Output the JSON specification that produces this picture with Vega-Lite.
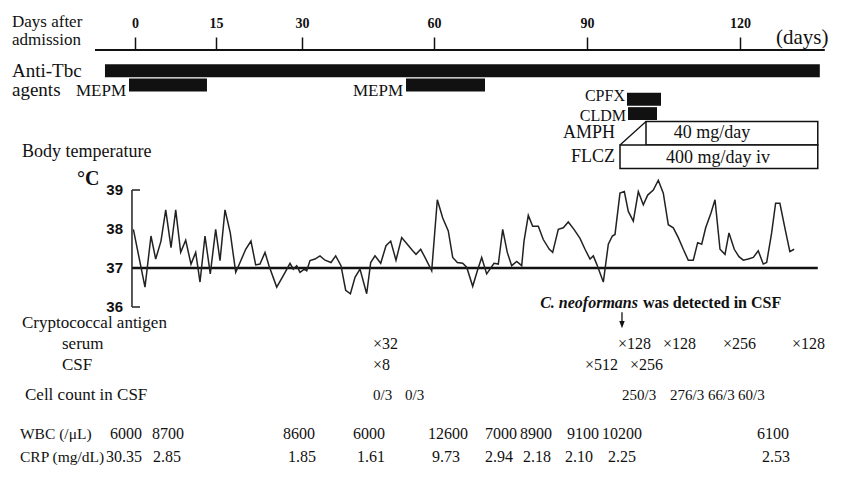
{
  "$schema": "https://vega.github.io/schema/vega-lite/v6.json",
  "background": "white",
  "padding": 0,
  "spacing": 0,
  "bounds": "flush",
  "config": {"view": {"stroke": null}, "font": "Liberation Serif", "text": {"font": "Liberation Serif", "color": "#111"}},
  "resolve": {"scale": {"x": "independent", "y": "independent"}, "axis": {"x": "independent", "y": "independent"}},
  "vconcat": [
    {
      "width": 857, "height": 50,
      "layer": [
        {
          "data": {"values": [{"from": -7.41, "to": 136.67}]},
          "mark": {"type": "rule", "strokeWidth": 2, "color": "#111"},
          "encoding": {
            "x": {"field": "from", "type": "quantitative",
                  "scale": {"domain": [-25, 0, 15, 30, 60, 90, 120, 143], "range": [0, 135, 216, 302, 434, 587, 740, 857], "nice": false, "zero": false},
                  "axis": {"orient": "top", "offset": -50, "values": [0, 15, 30, 60, 90, 120], "domain": false, "grid": false, "title": null,
                           "tickSize": 13, "tickWidth": 1.5, "tickColor": "#111", "labelFont": "Liberation Serif", "labelFontWeight": "bold",
                           "labelFontSize": 14, "labelPadding": 7, "labelColor": "#111", "labelFlush": false}},
            "x2": {"field": "to"},
            "y": {"datum": 0, "type": "quantitative", "scale": {"domain": [0, 1]}, "axis": null}
          }
        },
        {
          "data": {"values": [{"t": "Days after"}]},
          "mark": {"type": "text", "align": "left", "fontSize": 17, "dy": -3},
          "encoding": {"x": {"datum": -22.78, "type": "quantitative"}, "text": {"field": "t"}}
        },
        {
          "data": {"values": [{"t": "admission"}]},
          "mark": {"type": "text", "align": "left", "fontSize": 17, "dy": 15},
          "encoding": {"x": {"datum": -22.78, "type": "quantitative"}, "text": {"field": "t"}}
        },
        {
          "data": {"values": [{"t": "(days)"}]},
          "mark": {"type": "text", "align": "left", "fontSize": 21, "dy": 13},
          "encoding": {"x": {"datum": 127.06, "type": "quantitative"}, "text": {"field": "t"}}
        }
      ]
    },
    {
      "width": 857, "height": 70,
      "layer": [
        {
          "data": {"values": [
            {"lane": "Anti-Tbc", "drug": "Anti-Tbc agents", "start": -5.56, "end": 135.69},
            {"lane": "MEPM", "drug": "MEPM", "start": -1.11, "end": 13.33},
            {"lane": "MEPM", "drug": "MEPM", "start": 53.64, "end": 70.0},
            {"lane": "CPFX", "drug": "CPFX", "start": 97.84, "end": 104.51},
            {"lane": "CLDM", "drug": "CLDM", "start": 98.04, "end": 103.73}
          ]},
          "mark": {"type": "bar", "color": "#111", "cornerRadius": 0},
          "encoding": {
            "x": {"field": "start", "type": "quantitative",
                  "scale": {"domain": [-25, 0, 15, 30, 60, 90, 120, 143], "range": [0, 135, 216, 302, 434, 587, 740, 857], "nice": false, "zero": false}, "axis": null},
            "x2": {"field": "end"},
            "y": {"field": "lane", "type": "nominal", "scale": {"domain": ["Anti-Tbc", "MEPM", "CPFX", "CLDM"], "paddingInner": 0.1, "paddingOuter": 0.5, "align": 1}, "axis": null}
          }
        },
        {
          "data": {"values": [{"lane": "Anti-Tbc", "t": "Anti-Tbc"}]},
          "mark": {"type": "text", "align": "left", "fontSize": 19},
          "encoding": {"x": {"datum": -22.78, "type": "quantitative"}, "y": {"field": "lane", "type": "nominal"}, "text": {"field": "t"}}
        },
        {
          "data": {"values": [{"lane": "MEPM", "t": "agents"}]},
          "mark": {"type": "text", "align": "left", "fontSize": 19, "dy": 5},
          "encoding": {"x": {"datum": -22.78, "type": "quantitative"}, "y": {"field": "lane", "type": "nominal"}, "text": {"field": "t"}}
        },
        {
          "data": {"values": [
            {"lane": "MEPM", "drug": "MEPM", "start": -1.11},
            {"lane": "MEPM", "drug": "MEPM", "start": 53.64}
          ]},
          "mark": {"type": "text", "align": "right", "fontSize": 17, "dx": -3, "dy": 6},
          "encoding": {"x": {"field": "start", "type": "quantitative"}, "y": {"field": "lane", "type": "nominal"}, "text": {"field": "drug"}}
        },
        {
          "data": {"values": [{"lane": "CPFX", "drug": "CPFX", "start": 97.84}]},
          "mark": {"type": "text", "align": "right", "fontSize": 16, "dx": -2, "dy": -3},
          "encoding": {"x": {"field": "start", "type": "quantitative"}, "y": {"field": "lane", "type": "nominal"}, "text": {"field": "drug"}}
        },
        {
          "data": {"values": [{"lane": "CLDM", "drug": "CLDM", "start": 98.04}]},
          "mark": {"type": "text", "align": "right", "fontSize": 16, "dx": -2, "dy": 2},
          "encoding": {"x": {"field": "start", "type": "quantitative"}, "y": {"field": "lane", "type": "nominal"}, "text": {"field": "drug"}}
        }
      ]
    },
    {
      "width": 857, "height": 50,
      "layer": [
        {
          "data": {"values": [
            {"lane": "AMPH", "drug": "AMPH", "start": 96.47, "full": 101.57, "end": 135.29},
            {"lane": "FLCZ", "drug": "FLCZ", "start": 96.47, "full": 96.47, "end": 135.29}
          ]},
          "mark": {"type": "bar", "fill": "white", "stroke": "#111", "strokeWidth": 1.5},
          "encoding": {
            "x": {"field": "full", "type": "quantitative",
                  "scale": {"domain": [-25, 0, 15, 30, 60, 90, 120, 143], "range": [0, 135, 216, 302, 434, 587, 740, 857], "nice": false, "zero": false}, "axis": null},
            "x2": {"field": "end"},
            "y": {"field": "lane", "type": "nominal", "scale": {"domain": ["AMPH", "FLCZ"], "paddingInner": 0, "paddingOuter": 0.06}, "axis": null}
          }
        },
        {
          "data": {"values": [{"day": 96.47, "lane": "FLCZ"}, {"day": 101.57, "lane": "AMPH"}]},
          "mark": {"type": "line", "color": "#111", "strokeWidth": 1.3},
          "encoding": {"x": {"field": "day", "type": "quantitative"}, "y": {"field": "lane", "type": "nominal", "bandPosition": 0}}
        },
        {
          "data": {"values": [
            {"lane": "AMPH", "drug": "AMPH", "start": 96.47},
            {"lane": "FLCZ", "drug": "FLCZ", "start": 96.47}
          ]},
          "mark": {"type": "text", "align": "right", "fontSize": 18, "dx": -5},
          "encoding": {"x": {"field": "start", "type": "quantitative"}, "y": {"field": "lane", "type": "nominal"}, "text": {"field": "drug"}}
        },
        {
          "data": {"values": [{"lane": "AMPH", "dose": "40 mg/day"}]},
          "mark": {"type": "text", "align": "center", "fontSize": 18, "dy": 0},
          "encoding": {"x": {"datum": 114.5, "type": "quantitative"}, "y": {"field": "lane", "type": "nominal"}, "text": {"field": "dose"}}
        },
        {
          "data": {"values": [{"lane": "FLCZ", "dose": "400 mg/day  iv"}]},
          "mark": {"type": "text", "align": "center", "fontSize": 18, "dy": 1},
          "encoding": {"x": {"datum": 115.7, "type": "quantitative"}, "y": {"field": "lane", "type": "nominal"}, "text": {"field": "dose"}}
        },
        {
          "data": {"values": [{"lane": "FLCZ", "t": "Body temperature"}]},
          "mark": {"type": "text", "align": "left", "fontSize": 18, "dy": -5},
          "encoding": {"x": {"datum": -20.93, "type": "quantitative"}, "y": {"field": "lane", "type": "nominal"}, "text": {"field": "t"}}
        }
      ]
    },
    {
      "width": 857, "height": 140,
      "layer": [
        {
          "data": {"values": [{"from": -0.56, "to": 135.29, "t": 37}]},
          "mark": {"type": "rule", "color": "#111", "strokeWidth": 2.5},
          "encoding": {
            "x": {"field": "from", "type": "quantitative",
                  "scale": {"domain": [-25, 0, 15, 30, 60, 90, 120, 143], "range": [0, 135, 216, 302, 434, 587, 740, 857], "nice": false, "zero": false}, "axis": null},
            "x2": {"field": "to"},
            "y": {"field": "t", "type": "quantitative", "scale": {"domain": [35.923, 39.513], "nice": false, "zero": false}, "axis": null}
          }
        },
        {
          "data": {"values": [
            {"day": -0.3, "temp": 37.99}, {"day": 1.85, "temp": 36.51}, {"day": 2.96, "temp": 37.82}, {"day": 3.83, "temp": 37.23},
            {"day": 4.81, "temp": 37.69}, {"day": 5.69, "temp": 38.49}, {"day": 6.67, "temp": 37.52}, {"day": 7.54, "temp": 38.49},
            {"day": 8.46, "temp": 37.4}, {"day": 9.39, "temp": 37.71}, {"day": 10.37, "temp": 37.1}, {"day": 11.24, "temp": 37.4},
            {"day": 12.04, "temp": 36.64}, {"day": 12.96, "temp": 37.82}, {"day": 13.94, "temp": 36.85}, {"day": 14.94, "temp": 37.99},
            {"day": 15.7, "temp": 37.19}, {"day": 16.57, "temp": 38.49}, {"day": 17.49, "temp": 37.9}, {"day": 18.44, "temp": 36.89},
            {"day": 19.19, "temp": 37.14}, {"day": 20.18, "temp": 37.48}, {"day": 21.1, "temp": 37.69}, {"day": 21.92, "temp": 37.08},
            {"day": 22.67, "temp": 37.1}, {"day": 23.55, "temp": 37.4}, {"day": 24.24, "temp": 37.06}, {"day": 25.59, "temp": 36.51},
            {"day": 26.91, "temp": 36.85}, {"day": 27.91, "temp": 37.12}, {"day": 28.48, "temp": 36.97}, {"day": 29.08, "temp": 37.06},
            {"day": 29.65, "temp": 36.89}, {"day": 30.52, "temp": 36.97}, {"day": 31.07, "temp": 36.93}, {"day": 31.82, "temp": 37.19},
            {"day": 32.95, "temp": 37.23}, {"day": 34.09, "temp": 37.31}, {"day": 35.23, "temp": 37.2}, {"day": 36.59, "temp": 37.14},
            {"day": 37.66, "temp": 37.31}, {"day": 38.86, "temp": 37.06}, {"day": 39.93, "temp": 36.43}, {"day": 41.0, "temp": 36.34},
            {"day": 42.05, "temp": 36.76}, {"day": 43.18, "temp": 36.97}, {"day": 44.7, "temp": 36.34}, {"day": 45.61, "temp": 37.14},
            {"day": 46.59, "temp": 37.31}, {"day": 47.89, "temp": 37.12}, {"day": 49.09, "temp": 37.57}, {"day": 50.16, "temp": 37.69},
            {"day": 51.36, "temp": 37.2}, {"day": 52.66, "temp": 37.78}, {"day": 53.93, "temp": 37.61}, {"day": 55.16, "temp": 37.44},
            {"day": 55.91, "temp": 37.35}, {"day": 56.98, "temp": 37.48}, {"day": 57.95, "temp": 37.27}, {"day": 59.48, "temp": 36.93},
            {"day": 60.65, "temp": 38.75}, {"day": 61.71, "temp": 38.28}, {"day": 62.8, "temp": 37.95}, {"day": 63.67, "temp": 37.27},
            {"day": 64.58, "temp": 37.14}, {"day": 65.62, "temp": 37.12}, {"day": 66.41, "temp": 37.02}, {"day": 67.59, "temp": 36.53},
            {"day": 68.5, "temp": 36.93}, {"day": 69.35, "temp": 37.27}, {"day": 70.33, "temp": 36.85}, {"day": 70.98, "temp": 36.97},
            {"day": 71.76, "temp": 37.12}, {"day": 72.61, "temp": 37.1}, {"day": 73.47, "temp": 37.99}, {"day": 74.37, "temp": 37.4},
            {"day": 75.23, "temp": 37.06}, {"day": 76.22, "temp": 37.17}, {"day": 77.2, "temp": 37.06}, {"day": 77.65, "temp": 37.69},
            {"day": 78.49, "temp": 38.35}, {"day": 79.35, "temp": 38.07}, {"day": 80.45, "temp": 38.07}, {"day": 81.43, "temp": 37.73},
            {"day": 82.61, "temp": 37.48}, {"day": 83.27, "temp": 37.4}, {"day": 84.37, "temp": 37.99}, {"day": 85.35, "temp": 38.03},
            {"day": 86.33, "temp": 38.18}, {"day": 87.45, "temp": 37.99}, {"day": 88.63, "temp": 37.76}, {"day": 89.61, "temp": 37.48},
            {"day": 90.59, "temp": 37.23}, {"day": 91.24, "temp": 37.31}, {"day": 91.9, "temp": 37.1}, {"day": 93.2, "temp": 36.64},
            {"day": 94.18, "temp": 37.61}, {"day": 94.97, "temp": 37.82}, {"day": 95.49, "temp": 37.86}, {"day": 96.47, "temp": 38.92},
            {"day": 97.32, "temp": 38.96}, {"day": 98.1, "temp": 38.45}, {"day": 99.08, "temp": 38.2}, {"day": 100.06, "temp": 38.96},
            {"day": 101.04, "temp": 38.62}, {"day": 101.9, "temp": 38.87}, {"day": 103.0, "temp": 39.0}, {"day": 103.98, "temp": 39.25},
            {"day": 104.96, "temp": 38.92}, {"day": 105.94, "temp": 38.11}, {"day": 106.92, "temp": 38.03}, {"day": 107.9, "temp": 37.78},
            {"day": 108.88, "temp": 37.48}, {"day": 109.86, "temp": 37.2}, {"day": 110.84, "temp": 37.2}, {"day": 111.7, "temp": 37.65},
            {"day": 112.49, "temp": 37.61}, {"day": 113.27, "temp": 38.03}, {"day": 114.31, "temp": 38.41}, {"day": 115.1, "temp": 38.75},
            {"day": 116.08, "temp": 37.48}, {"day": 117.06, "temp": 37.35}, {"day": 117.84, "temp": 37.9}, {"day": 118.88, "temp": 37.48},
            {"day": 119.8, "temp": 37.29}, {"day": 120.65, "temp": 37.2}, {"day": 121.63, "temp": 37.23}, {"day": 122.61, "temp": 37.27},
            {"day": 123.59, "temp": 37.44}, {"day": 124.57, "temp": 37.1}, {"day": 125.24, "temp": 37.14}, {"day": 126.22, "temp": 37.9},
            {"day": 127.0, "temp": 38.66}, {"day": 127.84, "temp": 38.66}, {"day": 128.82, "temp": 38.03}, {"day": 129.8, "temp": 37.42},
            {"day": 130.65, "temp": 37.48}
          ]},
          "mark": {"type": "line", "color": "#222", "strokeWidth": 1.5},
          "encoding": {"x": {"field": "day", "type": "quantitative"}, "y": {"field": "temp", "type": "quantitative"}}
        },
        {
          "data": {"values": [{"top": 39, "bottom": 36}]},
          "mark": {"type": "rule", "color": "#222", "strokeWidth": 1.5},
          "encoding": {"x": {"datum": -0.56, "type": "quantitative"}, "y": {"field": "top", "type": "quantitative"}, "y2": {"field": "bottom"}}
        },
        {
          "data": {"values": [{"t": 39}, {"t": 36}]},
          "mark": {"type": "rule", "color": "#222", "strokeWidth": 1.5},
          "encoding": {"x": {"datum": -0.56, "type": "quantitative"}, "x2": {"datum": 0.93}, "y": {"field": "t", "type": "quantitative"}}
        },
        {
          "data": {"values": [{"t": 39}, {"t": 38}, {"t": 37}, {"t": 36}]},
          "mark": {"type": "text", "align": "right", "baseline": "middle", "font": "Liberation Sans", "fontWeight": "bold", "fontSize": 15},
          "encoding": {"x": {"datum": -2.22, "type": "quantitative"}, "y": {"field": "t", "type": "quantitative"}, "text": {"field": "t"}}
        },
        {
          "data": {"values": [{"t": 39.13, "u": "°C"}]},
          "mark": {"type": "text", "align": "left", "baseline": "alphabetic", "fontWeight": "bold", "fontSize": 20},
          "encoding": {"x": {"datum": -10.74, "type": "quantitative"}, "y": {"field": "t", "type": "quantitative"}, "text": {"field": "u"}}
        },
        {
          "data": {"values": [{"t": 36, "s": "C. neoformans"}]},
          "mark": {"type": "text", "align": "right", "baseline": "alphabetic", "fontWeight": "bold", "fontStyle": "italic", "fontSize": 16, "dx": -2, "dy": 1},
          "encoding": {"x": {"datum": 100.39, "type": "quantitative"}, "y": {"field": "t", "type": "quantitative"}, "text": {"field": "s"}}
        },
        {
          "data": {"values": [{"t": 36, "s": "was detected in CSF"}]},
          "mark": {"type": "text", "align": "left", "baseline": "alphabetic", "fontWeight": "bold", "fontSize": 16, "dx": 3, "dy": 1},
          "encoding": {"x": {"datum": 100.39, "type": "quantitative"}, "y": {"field": "t", "type": "quantitative"}, "text": {"field": "s"}}
        }
      ]
    },
    {
      "width": 857, "height": 68,
      "layer": [
        {
          "data": {"values": [
            {"row": "serum", "day": 46.14, "v": "×32"},
            {"row": "serum", "day": 96.08, "v": "×128"},
            {"row": "serum", "day": 104.9, "v": "×128"},
            {"row": "serum", "day": 116.67, "v": "×256"},
            {"row": "serum", "day": 130.2, "v": "×128"},
            {"row": "CSF", "day": 46.14, "v": "×8"},
            {"row": "CSF", "day": 89.61, "v": "×512"},
            {"row": "CSF", "day": 98.43, "v": "×256"}
          ]},
          "mark": {"type": "text", "align": "left", "fontSize": 16},
          "encoding": {
            "x": {"field": "day", "type": "quantitative",
                  "scale": {"domain": [-25, 0, 15, 30, 60, 90, 120, 143], "range": [0, 135, 216, 302, 434, 587, 740, 857], "nice": false, "zero": false}, "axis": null},
            "y": {"field": "row", "type": "nominal", "scale": {"type": "point", "domain": ["Cryptococcal antigen", "serum", "CSF"], "padding": 0.65}, "axis": null},
            "text": {"field": "v"}
          }
        },
        {
          "data": {"values": [{"row": "Cryptococcal antigen"}]},
          "mark": {"type": "text", "align": "left", "fontSize": 17},
          "encoding": {"x": {"datum": -20.93, "type": "quantitative"}, "y": {"field": "row", "type": "nominal"}, "text": {"field": "row"}}
        },
        {
          "data": {"values": [{"row": "serum"}, {"row": "CSF"}]},
          "mark": {"type": "text", "align": "left", "fontSize": 17},
          "encoding": {"x": {"datum": -13.52, "type": "quantitative"}, "y": {"field": "row", "type": "nominal"}, "text": {"field": "row"}}
        },
        {
          "data": {"values": [{"row": "Cryptococcal antigen", "day": 96.86}]},
          "mark": {"type": "point", "shape": "M-0.08,-1.4L0.08,-1.4L0.08,-0.3L0.34,-0.3L0,0.6L-0.34,-0.3L-0.08,-0.3Z", "size": 256, "filled": true, "color": "#111", "opacity": 1},
          "encoding": {"x": {"field": "day", "type": "quantitative"}, "y": {"field": "row", "type": "nominal"}}
        }
      ]
    },
    {
      "width": 857, "height": 34,
      "layer": [
        {
          "data": {"values": [
            {"row": "Cell count in CSF", "day": 46.14, "v": "0/3"},
            {"row": "Cell count in CSF", "day": 53.41, "v": "0/3"},
            {"row": "Cell count in CSF", "day": 96.86, "v": "250/3"},
            {"row": "Cell count in CSF", "day": 106.27, "v": "276/3"},
            {"row": "Cell count in CSF", "day": 113.73, "v": "66/3"},
            {"row": "Cell count in CSF", "day": 119.61, "v": "60/3"}
          ]},
          "mark": {"type": "text", "align": "left", "fontSize": 15},
          "encoding": {
            "x": {"field": "day", "type": "quantitative",
                  "scale": {"domain": [-25, 0, 15, 30, 60, 90, 120, 143], "range": [0, 135, 216, 302, 434, 587, 740, 857], "nice": false, "zero": false}, "axis": null},
            "y": {"field": "row", "type": "nominal", "scale": {"type": "point", "domain": ["Cell count in CSF"], "padding": 0.5}, "axis": null},
            "text": {"field": "v"}
          }
        },
        {
          "data": {"values": [{"row": "Cell count in CSF"}]},
          "mark": {"type": "text", "align": "left", "fontSize": 17},
          "encoding": {"x": {"datum": -20.37, "type": "quantitative"}, "y": {"field": "row", "type": "nominal"}, "text": {"field": "row"}}
        }
      ]
    },
    {
      "width": 857, "height": 67,
      "layer": [
        {
          "data": {"values": [
            {"row": "WBC", "day": -4.63, "v": "6000"},
            {"row": "WBC", "day": 3.15, "v": "8700"},
            {"row": "WBC", "day": 26.69, "v": "8600"},
            {"row": "WBC", "day": 41.59, "v": "6000"},
            {"row": "WBC", "day": 58.64, "v": "12600"},
            {"row": "WBC", "day": 70.0, "v": "7000"},
            {"row": "WBC", "day": 76.86, "v": "8900"},
            {"row": "WBC", "day": 86.08, "v": "9100"},
            {"row": "WBC", "day": 92.94, "v": "10200"},
            {"row": "WBC", "day": 123.33, "v": "6100"},
            {"row": "CRP", "day": -5.37, "v": "30.35"},
            {"row": "CRP", "day": 3.33, "v": "2.85"},
            {"row": "CRP", "day": 27.56, "v": "1.85"},
            {"row": "CRP", "day": 42.5, "v": "1.61"},
            {"row": "CRP", "day": 59.55, "v": "9.73"},
            {"row": "CRP", "day": 70.0, "v": "2.94"},
            {"row": "CRP", "day": 77.45, "v": "2.18"},
            {"row": "CRP", "day": 85.69, "v": "2.10"},
            {"row": "CRP", "day": 94.12, "v": "2.25"},
            {"row": "CRP", "day": 124.31, "v": "2.53"}
          ]},
          "mark": {"type": "text", "align": "left", "fontSize": 16},
          "encoding": {
            "x": {"field": "day", "type": "quantitative",
                  "scale": {"domain": [-25, 0, 15, 30, 60, 90, 120, 143], "range": [0, 135, 216, 302, 434, 587, 740, 857], "nice": false, "zero": false}, "axis": null},
            "y": {"field": "row", "type": "nominal", "scale": {"type": "point", "domain": ["WBC", "CRP"], "padding": 1.095}, "axis": null},
            "text": {"field": "v"}
          }
        },
        {
          "data": {"values": [{"row": "WBC", "label": "WBC (/μL)"}, {"row": "CRP", "label": "CRP (mg/dL)"}]},
          "mark": {"type": "text", "align": "left", "fontSize": 15.5},
          "encoding": {"x": {"datum": -21.3, "type": "quantitative"}, "y": {"field": "row", "type": "nominal"}, "text": {"field": "label"}}
        }
      ]
    }
  ]
}
